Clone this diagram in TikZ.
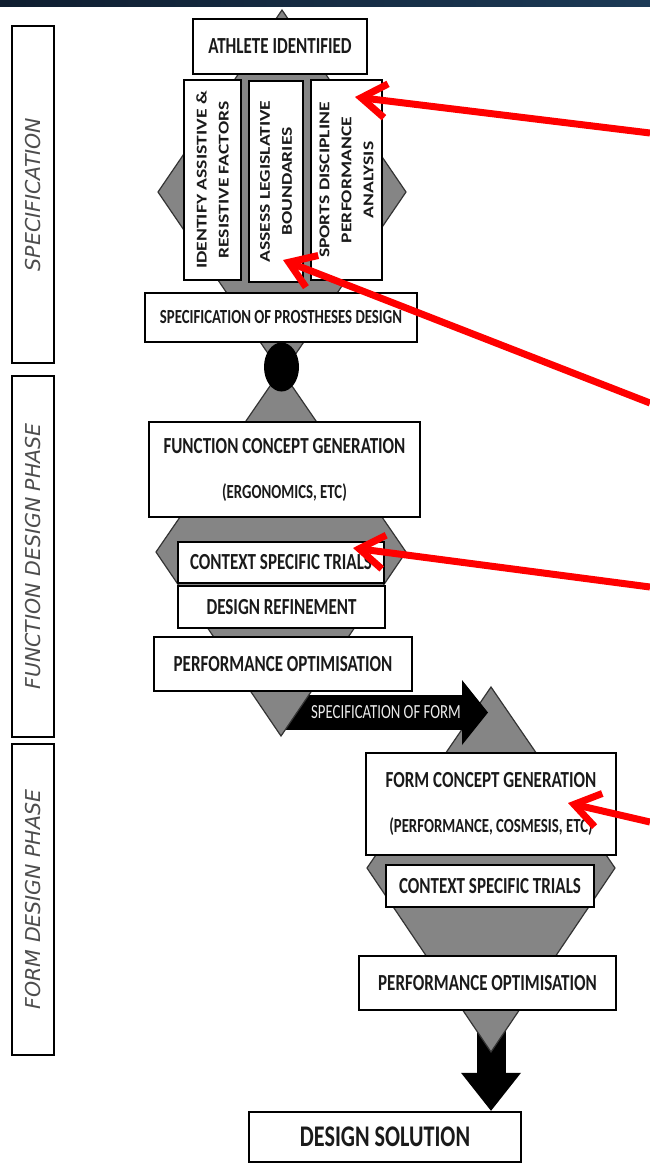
\documentclass[tikz,border=0pt]{standalone}
\usepackage{graphicx}
\usepackage{fontspec}
\setmainfont{Carlito}
\newfontfamily\phasefont{DejaVu Sans}
\usepackage{tikz}
\usetikzlibrary{arrows.meta,positioning,calc,backgrounds,shapes.geometric}
\definecolor{topnavy}{HTML}{0F1E30}
\definecolor{topnavyb}{HTML}{1C3A56}
\definecolor{diamondgray}{HTML}{858585}
\definecolor{phasetext}{HTML}{4D4D4D}
\definecolor{pointerred}{HTML}{FF0000}
\definecolor{ink}{HTML}{1A1A1A}
\newcommand{\hsq}[1]{\scalebox{0.74}[1]{#1}}
\newcommand{\vsq}[1]{\scalebox{1}[0.76]{#1}}
\tikzset{
    stagebox/.style={draw=black,fill=white,line width=2.4pt,inner sep=0pt,
      text=ink,align=center,font=\bfseries\fontsize{23}{27}\selectfont},
    twoline/.style={stagebox,font=\bfseries\fontsize{23}{45}\selectfont},
    sidebox/.style={stagebox,rotate=90,font=\bfseries\fontsize{19.6}{22}\selectfont},
    phaseband/.style={draw=black,fill=white,line width=2.2pt,rotate=90,inner sep=0pt,
      minimum height=42pt,text=phasetext,
      font=\phasefont\itshape\fontsize{20.5}{24}\selectfont},
    hexback/.style={fill=diamondgray,draw=black!80,line width=1.2pt},
    pointer/.style={draw=pointerred,line width=7pt,
      -{Straight Barb[length=25pt,width=34pt]}},
    flowlabel/.style={text=white!92!black,font=\fontsize{20}{24}\selectfont}
}
\begin{document}
\begin{tikzpicture}[x=1pt,y=-1pt]
  \useasboundingbox (0,0) rectangle (650,1168);
  \shade[left color=topnavy,right color=topnavyb] (0,0) rectangle (650,6.5);

  % phase bands on the left
  \node[phaseband,minimum width=337pt] (specband) at (33,194.5) {SPECIFICATION};
  \node[phaseband,minimum width=361pt] (funcband) at (33,556.5) {FUNCTION DESIGN PHASE};
  \node[phaseband,minimum width=311pt] (formband) at (33,899.5) {FORM DESIGN PHASE};

  % specification
  \node[stagebox,minimum width=174pt,minimum height=55pt] (athlete) at (280,46.5)
    {\hsq{ATHLETE IDENTIFIED}};
  \node[sidebox,minimum width=200pt,minimum height=57pt] (assist) at (212.5,180)
    {\vsq{IDENTIFY ASSISTIVE \&}\\\vsq{RESISTIVE FACTORS}};
  \node[sidebox,minimum width=201pt,minimum height=54pt] (legis) at (276,181.5)
    {\vsq{ASSESS LEGISLATIVE}\\\vsq{BOUNDARIES}};
  \node[sidebox,minimum width=200pt,minimum height=71pt] (sports) at (346.5,180)
    {\vsq{SPORTS DISCIPLINE}\\\vsq{PERFORMANCE}\\\vsq{ANALYSIS}};
  \node[stagebox,minimum width=272pt,minimum height=49pt,
    font=\bfseries\fontsize{20}{24}\selectfont] (prosth) at (281,317.5)
    {\hsq{SPECIFICATION OF PROSTHESES DESIGN}};

  % function design phase
  \node[twoline,minimum width=271pt,minimum height=95pt] (funcgen) at (284.5,469.5)
    {\hsq{FUNCTION CONCEPT GENERATION}\\{\fontsize{20}{24}\selectfont\hsq{(ERGONOMICS, ETC)}}};
  \node[stagebox,minimum width=206pt,minimum height=41pt] (trialsA) at (281,562.5)
    {\hsq{CONTEXT SPECIFIC TRIALS}};
  \node[stagebox,minimum width=207pt,minimum height=42pt] (refine) at (281.5,607)
    {\hsq{DESIGN REFINEMENT}};
  \node[stagebox,minimum width=258pt,minimum height=54pt] (perfA) at (283,664)
    {\hsq{PERFORMANCE OPTIMISATION}};

  % form design phase
  \node[twoline,minimum width=250pt,minimum height=102pt] (formgen) at (491,804)
    {\hsq{FORM CONCEPT GENERATION}\\{\fontsize{20}{24}\selectfont\hsq{(PERFORMANCE, COSMESIS, ETC)}}};
  \node[stagebox,minimum width=208pt,minimum height=42pt] (trialsB) at (490,886)
    {\hsq{CONTEXT SPECIFIC TRIALS}};
  \node[stagebox,minimum width=257pt,minimum height=54pt] (perfB) at (487.5,983)
    {\hsq{PERFORMANCE OPTIMISATION}};
  \node[stagebox,minimum width=272pt,minimum height=50pt,
    font=\bfseries\fontsize{30}{34}\selectfont] (solution) at (385,1137)
    {\hsq{DESIGN SOLUTION}};

  \coordinate (d3top) at (491,687);
  \coordinate (d3bot) at (491,1052);
  \coordinate (formfrom) at (284,712.5);
  \coordinate (formto) at (488,712.5);

  \begin{scope}[on background layer]
    \draw[line width=29pt,-{Triangle[length=38pt,width=60pt,line width=0pt]}]
      (perfB.south -| d3bot) -- (solution.north -| d3bot);
    \draw[hexback] (d3top) -- (615,868) -- (d3bot) -- (367,868) -- cycle;
    \draw[line width=35pt,-{Triangle[length=26pt,width=65pt,line width=0pt]}]
      (formfrom) -- node[flowlabel] {\hsq{SPECIFICATION OF FORM}} (formto);
    \draw[hexback] (282,10) -- (406,192) -- (282,374) -- (158,192) -- cycle;
    \draw[hexback] (281,370) -- (406,552) -- (281,736) -- (156,552) -- cycle;
    \node[fill=black,ellipse,minimum width=35pt,minimum height=49pt,inner sep=0pt]
      (joint) at (281.5,367) {};
  \end{scope}

  % red pointers from the right edge
  \coordinate (tailA) at (650,133);
  \coordinate (tailB) at (650,403);
  \coordinate (tailC) at (650,587);
  \coordinate (tailD) at (650,822);
  \draw[pointer] (tailA) -- ($(sports.center)+(8.5,-83)$);
  \draw[pointer] (tailB) -- ($(legis.center)+(7,78.5)$);
  \draw[pointer] (tailC) -- ($(trialsA.center)+(72,-14.5)$);
  \draw[pointer] (tailD) -- ($(formgen.center)+(77,-1)$);
\end{tikzpicture}
\end{document}
